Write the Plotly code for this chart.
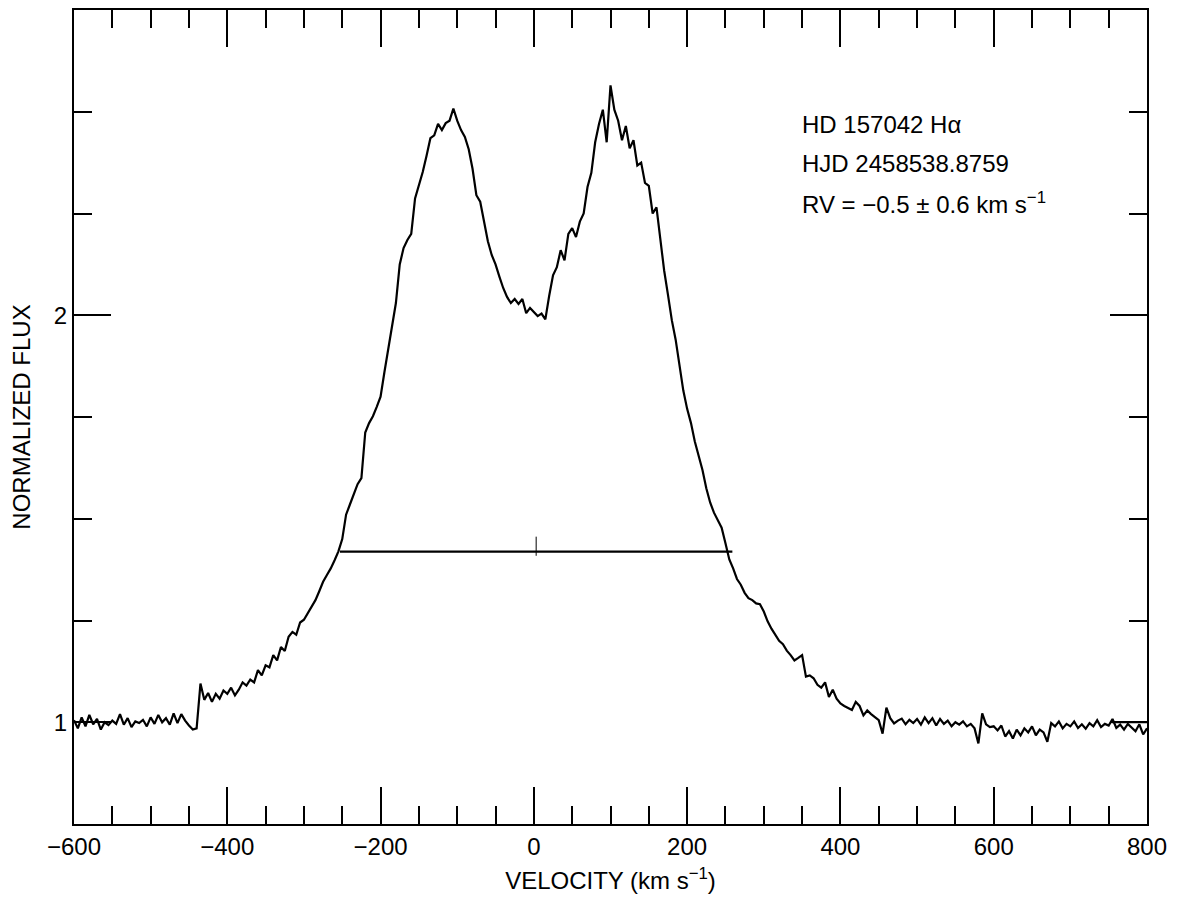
import plotly.graph_objects as go

# ---- datos ----
# velocidad (km/s), muestreo cada 5 km/s de -600 a 800
VELOCITY = list(range(-600, 805, 5))

FLUX = [
    # -600 .. -505
    1.005, 0.985, 1.012, 0.990, 1.018, 0.995, 1.008, 0.982, 1.000, 0.993,
    1.004, 0.996, 1.020, 0.994, 1.010, 0.988, 1.002, 0.998, 1.006, 0.990,
    # -500 .. -405
    1.012, 0.996, 1.018, 1.000, 1.010, 0.994, 1.022, 0.998, 1.020, 1.004,
    0.992, 0.982, 0.985, 1.095, 1.055, 1.072, 1.050, 1.070, 1.058, 1.078,
    # -400 .. -305
    1.070, 1.085, 1.066, 1.080, 1.098, 1.090, 1.105, 1.098, 1.128, 1.115,
    1.140, 1.135, 1.165, 1.152, 1.185, 1.175, 1.210, 1.222, 1.215, 1.245,
    # -300 .. -205
    1.252, 1.268, 1.285, 1.300, 1.322, 1.345, 1.362, 1.378, 1.398, 1.420,
    1.450, 1.510, 1.535, 1.558, 1.585, 1.600, 1.712, 1.735, 1.752, 1.775,
    # -200 .. -105
    1.800, 1.860, 1.920, 1.968, 2.030, 2.125, 2.165, 2.185, 2.200, 2.287,
    2.320, 2.352, 2.392, 2.435, 2.442, 2.470, 2.455, 2.472, 2.478, 2.508,
    # -100 .. -5
    2.478, 2.455, 2.438, 2.408, 2.360, 2.295, 2.279, 2.228, 2.182, 2.148,
    2.125, 2.095, 2.067, 2.045, 2.030, 2.040, 2.028, 2.040, 2.005, 2.018,
    # 0 .. 95
    2.008, 1.998, 2.004, 1.990, 2.048, 2.098, 2.118, 2.160, 2.135, 2.200,
    2.214, 2.192, 2.230, 2.250, 2.315, 2.350, 2.425, 2.470, 2.505, 2.425,
    # 100 .. 195
    2.565, 2.505, 2.478, 2.430, 2.465, 2.410, 2.430, 2.368, 2.375, 2.325,
    2.318, 2.250, 2.265, 2.180, 2.110, 2.050, 1.988, 1.940, 1.880, 1.815,
    # 200 .. 295
    1.770, 1.735, 1.690, 1.655, 1.620, 1.575, 1.540, 1.515, 1.495, 1.478,
    1.440, 1.400, 1.378, 1.352, 1.338, 1.318, 1.305, 1.300, 1.292, 1.290,
    # 300 .. 395
    1.272, 1.248, 1.230, 1.215, 1.200, 1.192, 1.176, 1.165, 1.152, 1.158,
    1.165, 1.112, 1.115, 1.108, 1.092, 1.085, 1.098, 1.062, 1.080, 1.058,
    # 400 .. 495
    1.046, 1.040, 1.034, 1.030, 1.050, 1.040, 1.017, 1.029, 1.020, 1.013,
    1.005, 0.972, 1.036, 1.010, 0.997, 1.004, 1.009, 0.995, 1.006, 0.998,
    # 500 .. 595
    1.008, 0.994, 1.012, 0.998, 1.010, 0.992, 1.008, 0.996, 1.004, 0.990,
    1.000, 0.994, 1.002, 0.990, 0.996, 0.985, 0.948, 1.022, 0.995, 0.988,
    # 600 .. 695
    0.990, 0.980, 0.992, 0.965, 0.978, 0.960, 0.982, 0.968, 0.985, 0.975,
    0.990, 0.968, 0.982, 0.975, 0.952, 0.998, 0.990, 1.002, 0.985, 0.996,
    # 700 .. 800
    0.990, 1.002, 0.986, 0.995, 0.984, 0.998, 0.990, 1.005, 0.988, 0.996,
    0.992, 1.008, 0.986, 0.994, 0.982, 0.996, 0.988, 0.978, 0.995, 0.970,
    0.985,
]

# ancho a media altura y bisector
HALF_WIDTH_V = [-253, 259]
HALF_WIDTH_F = 1.419
BISECTOR_V = 3
BISECTOR_F = [1.409, 1.456]

# marca de continuo a la derecha
CONT_V = [754, 800]
CONT_F = 1.0

LABELS = ["HD 157042 H\u03b1", "HJD 2458538.8759",
          "RV = \u22120.5 \u00b1 0.6 km s<sup>\u22121</sup>"]

FONT = "Liberation Sans, Arial, Helvetica, sans-serif"
BLACK = "#000000"
LW = 2.2

fig = go.Figure()
fig.add_trace(go.Scatter(x=VELOCITY, y=FLUX, mode="lines",
                         line=dict(color=BLACK, width=LW), hoverinfo="skip"))
fig.add_trace(go.Scatter(x=HALF_WIDTH_V, y=[HALF_WIDTH_F] * 2, mode="lines",
                         line=dict(color=BLACK, width=LW), hoverinfo="skip"))
fig.add_trace(go.Scatter(x=[BISECTOR_V] * 2, y=BISECTOR_F, mode="lines",
                         line=dict(color=BLACK, width=1), hoverinfo="skip"))
fig.add_trace(go.Scatter(x=CONT_V, y=[CONT_F] * 2, mode="lines",
                         line=dict(color=BLACK, width=LW), hoverinfo="skip"))

axis_common = dict(
    showgrid=False, zeroline=False, showline=True, linecolor=BLACK, linewidth=2,
    mirror="allticks", ticks="inside", tickcolor=BLACK, tickwidth=2, ticklen=37,
    tickfont=dict(family=FONT, size=24, color=BLACK),
)
fig.update_xaxes(**axis_common, range=[-600, 800], tick0=-600, dtick=200,
                 minor=dict(ticks="inside", dtick=50, tick0=-600, ticklen=18,
                            tickwidth=2, tickcolor=BLACK, showgrid=False),
                 title=dict(text="VELOCITY (km s<sup>\u22121</sup>)", standoff=13,
                            font=dict(family=FONT, size=24, color=BLACK)))
fig.update_yaxes(**axis_common, range=[0.75, 2.75], tick0=0, dtick=1,
                 minor=dict(ticks="inside", dtick=0.25, tick0=0, ticklen=18,
                            tickwidth=2, tickcolor=BLACK, showgrid=False),
                 title=dict(text="NORMALIZED FLUX", standoff=16,
                            font=dict(family=FONT, size=24, color=BLACK)))

for i, txt in enumerate(LABELS):
    fig.add_annotation(text=txt, xref="paper", yref="paper", x=0.677,
                       y=0.859 - i * 0.048, xanchor="left", yanchor="middle",
                       showarrow=False, font=dict(family=FONT, size=24, color=BLACK))

fig.update_layout(
    width=1177, height=905, autosize=False,
    margin=dict(l=74, r=30, t=8, b=81),
    paper_bgcolor="white", plot_bgcolor="white",
    showlegend=False,
)

fig.write_html("out.html", config={"displayModeBar": False},
               post_script="document.body.style.margin='0';")
